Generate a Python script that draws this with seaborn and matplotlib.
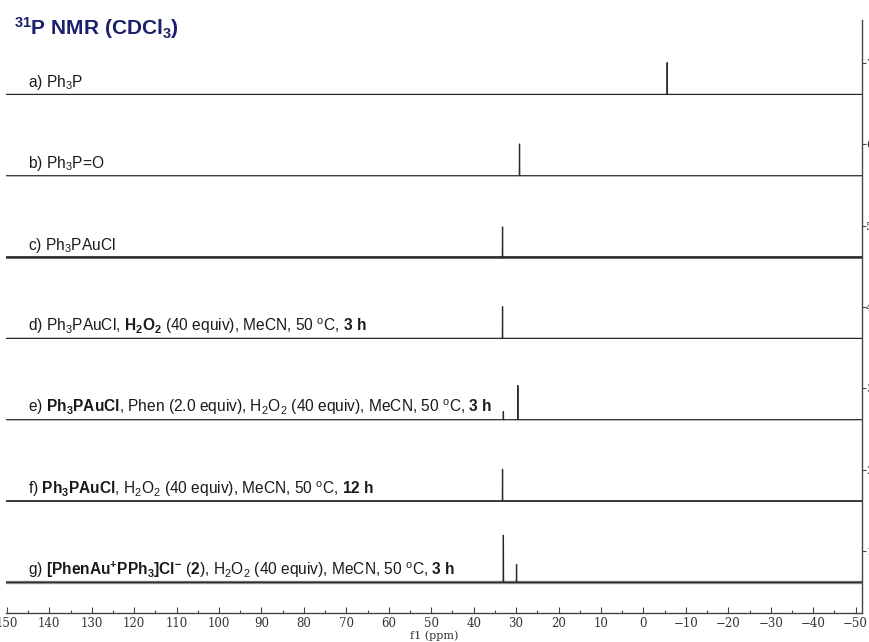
import matplotlib
matplotlib.use("Agg")
import matplotlib.pyplot as plt
import seaborn as sns
import pandas as pd
from matplotlib.ticker import MultipleLocator

sns.set_theme(style="white")
plt.rcParams['font.family'] = ['Liberation Sans', 'DejaVu Sans']
plt.rcParams['mathtext.fontset'] = 'custom'
plt.rcParams['mathtext.rm'] = 'Liberation Sans'
plt.rcParams['mathtext.it'] = 'Liberation Sans'
plt.rcParams['mathtext.bf'] = 'Liberation Sans:bold'
plt.rcParams['axes.unicode_minus'] = True

# ---- data ----
spectrum_ids = ["a", "b", "c", "d", "e", "f", "g"]
stack_levels = [7, 6, 5, 4, 3, 2, 1]
peak_shifts = [[-5.6], [29.2], [33.2], [33.2], [29.6, 33.0], [33.2], [33.0, 29.9]]
peak_heights = [[0.39], [0.39], [0.37], [0.39], [0.42, 0.10], [0.39], [0.58, 0.22]]
labels = [
    r"a) Ph$_3$P",
    r"b) Ph$_3$P=O",
    r"c) Ph$_3$PAuCl",
    r"d) Ph$_3$PAuCl, $\mathbf{H_2O_2}$ (40 equiv), MeCN, 50 $^{\mathrm{o}}$C, $\mathbf{3\ h}$",
    r"e) $\mathbf{Ph_3PAuCl}$, Phen (2.0 equiv), H$_2$O$_2$ (40 equiv), MeCN, 50 $^{\mathrm{o}}$C, $\mathbf{3\ h}$",
    r"f) $\mathbf{Ph_3PAuCl}$, H$_2$O$_2$ (40 equiv), MeCN, 50 $^{\mathrm{o}}$C, $\mathbf{12\ h}$",
    r"g) $\mathbf{[PhenAu^{+}PPh_3]Cl^{-}}$ ($\mathbf{2}$), H$_2$O$_2$ (40 equiv), MeCN, 50 $^{\mathrm{o}}$C, $\mathbf{3\ h}$",
]
x_ticks = list(range(150, -51, -10))
y_ticks = [1, 2, 3, 4, 5, 6, 7]
title = r"$^{\mathbf{31}}$P NMR (CDCl$_{\mathbf{3}}$)"

# ---- figure ----
fig = plt.figure(figsize=(8.69, 6.42), dpi=100)
ax = fig.add_axes([6 / 869, 1 - 613 / 642, (862 - 6) / 869, (613 - 20) / 642])
XL, XR = 150.2, -51.5
ax.set_xlim(XL, XR)
ax.set_ylim(0.238, 7.53)

base_offset = -0.385
noise_widths = [0, 0, 1.8, 0, 0, 1.3, 2.4]
noise_colors = ["#333333", "#333333", "#333333", "#555555", "#555555", "#555555", "#8a8a8a"]
for sid, lvl, shifts, heights, nw, nc in zip(spectrum_ids, stack_levels, peak_shifts,
                                             peak_heights, noise_widths, noise_colors):
    base = lvl + base_offset
    if nw > 0:
        bl = pd.DataFrame({"ppm": [XL, XR], "intensity": [base, base]})
        sns.lineplot(data=bl, x="ppm", y="intensity", ax=ax, color=nc, lw=nw,
                     estimator=None, sort=False)
    xs = [XL, XR]
    ys = [base, base]
    for s, h in zip(shifts, heights):
        xs += [s + 0.05, s, s - 0.05]
        ys += [base, base + h, base]
    df = pd.DataFrame({"ppm": xs, "intensity": ys})
    sns.lineplot(data=df, x="ppm", y="intensity", ax=ax, color="#2a2a2a", lw=0.9,
                 estimator=None, sort=True, orient="x")

for lbl, lvl in zip(labels, stack_levels):
    ax.text(145.0, lvl + base_offset + 0.09, lbl, fontsize=11.2, color="#1a1a1a",
            ha="left", va="baseline")

fig.text(14 / 869, 1 - 35 / 642, title, fontsize=15, fontweight="bold",
         color="#1c1f6b", ha="left", va="baseline")

# axes styling
for sp in ["left", "top"]:
    ax.spines[sp].set_visible(False)
for sp in ["bottom", "right"]:
    ax.spines[sp].set_visible(True)
    ax.spines[sp].set_color("#444444")
    ax.spines[sp].set_linewidth(1.0)

ax.set_xticks(x_ticks)
ax.xaxis.set_minor_locator(MultipleLocator(5))
ax.tick_params(axis="x", which="major", direction="in", length=4, width=0.8,
               colors="#444444", pad=3, labelsize=8.5, bottom=True)
ax.tick_params(axis="x", which="minor", direction="in", length=2.5, width=0.8,
               colors="#444444", bottom=True)
for t in ax.get_xticklabels():
    t.set_fontfamily("DejaVu Serif")
    t.set_color("#333333")

ax.yaxis.tick_right()
ax.set_yticks(y_ticks)
ax.tick_params(axis="y", which="major", direction="out", length=3, width=0.8,
               colors="#444444", pad=0, labelsize=8, right=True, left=False)
for t in ax.get_yticklabels():
    t.set_fontfamily("DejaVu Serif")
    t.set_color("#333333")

ax.set_ylabel("")
ax.set_xlabel("f1 (ppm)", fontsize=8, fontfamily="DejaVu Serif", color="#333333",
              labelpad=0)

fig.savefig("out.png", dpi=100)
